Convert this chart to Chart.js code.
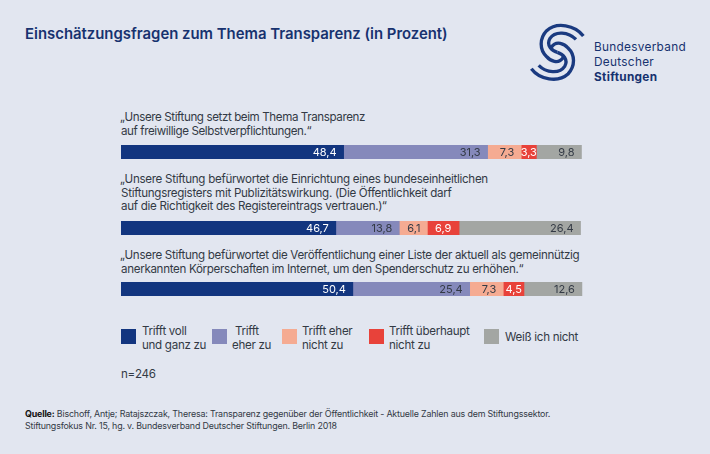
<!DOCTYPE html>
<html lang="de">
<head>
<meta charset="utf-8">
<title>Einschätzungsfragen zum Thema Transparenz</title>
<script src="https://cdn.jsdelivr.net/npm/chart.js@4"></script>
<style>
  html, body { margin: 0; padding: 0; }
  body { width: 710px; height: 454px; background: #e2e6f0; position: relative; overflow: hidden;
         font-family: Inter, "Noto Sans", sans-serif; color: #333a45; }
  .txt { position: absolute; white-space: nowrap; font-size: 11.6px; line-height: 14px; letter-spacing: -0.3px; }
  .question { left: 121px; text-indent: -1px; }
  .question div { text-indent: 0; }
  #title { left: 25px; top: 24px; font-size: 14.9px; line-height: 20px; font-weight: 600; color: #17326f; letter-spacing: 0; }
  #brand { left: 594px; top: 40px; font-size: 11.8px; line-height: 15px; color: #17326f; letter-spacing: 0.3px; }
  #brand b { font-weight: 700; }
  canvas { position: absolute; }
  .swatch { position: absolute; width: 15px; height: 15px; }
  #source { left: 25px; top: 408px; font-size: 8.9px; line-height: 12px; letter-spacing: -0.18px; }
  #source b { color: #111; }
</style>
</head>
<body>
<div class="txt" id="title">Einschätzungsfragen zum Thema Transparenz (in Prozent)</div>

<svg style="position:absolute;left:500px;top:10px" width="210" height="90" viewBox="0 0 630 270" fill="none" stroke="#1a3a80" stroke-width="10">
  <g id="swirl">
    <path d="M250 78 C225 45 170 35 140 62 C118 85 118 120 140 140 C150 152 175 165 190 142"/>
    <path d="M228 88 C205 65 165 62 150 85 C138 105 155 122 172 127"/>
  </g>
  <use href="#swirl" transform="rotate(180 172 127)"/>
</svg>
<div class="txt" id="brand">Bundesverband<br>Deutscher<br><b>Stiftungen</b></div>

<div class="txt question" style="top:110px;letter-spacing:-0.4px">„Unsere Stiftung setzt beim Thema Transparenz<div>auf freiwillige Selbstverpflichtungen.“</div></div>
<div class="txt question" style="top:173px;line-height:13.7px">„Unsere Stiftung befürwortet die Einrichtung eines bundeseinheitlichen<div>Stiftungsregisters mit Publizitätswirkung. (Die Öffentlichkeit darf</div><div>auf die Richtigkeit des Registereintrags vertrauen.)“</div></div>
<div class="txt question" style="top:248px;letter-spacing:-0.32px">„Unsere Stiftung befürwortet die Veröffentlichung einer Liste der aktuell als gemeinnützig<div>anerkannten Körperschaften im Internet, um den Spenderschutz zu erhöhen.“</div></div>

<canvas id="row1" style="left:121px;top:145px"></canvas>
<canvas id="row2" style="left:121px;top:221px"></canvas>
<canvas id="row3" style="left:121px;top:282px"></canvas>

<div id="legend"></div>
<div class="txt" style="left:121px;top:367px">n=246</div>
<div class="txt" id="source"><b>Quelle:</b> Bischoff, Antje; Ratajszczak, Theresa: Transparenz gegenüber der Öffentlichkeit - Aktuelle Zahlen aus dem Stiftungssektor.<br>Stiftungsfokus Nr. 15, hg. v. Bundesverband Deutscher Stiftungen. Berlin 2018</div>

<script>
// Antwortkategorien
var seriesNames = ['Trifft voll und ganz zu', 'Trifft eher zu', 'Trifft eher nicht zu', 'Trifft überhaupt nicht zu', 'Weiß ich nicht'];
var seriesColors = ['#12357f', '#8589bb', '#f5ab92', '#e8423a', '#a3a6a3'];
var labelColors = ['#ffffff', '#333a45', '#333a45', '#ffffff', '#333a45'];

// Werte je Frage (in Prozent)
var selbstverpflichtung = [48.4, 31.3, 7.3, 3.3, 9.8];
var stiftungsregister = [46.7, 13.8, 6.1, 6.9, 26.4];
var spenderschutz = [50.4, 25.4, 7.3, 4.5, 12.6];

// Legende: Zeilenumbrueche und Position
var legendLines = [['Trifft voll', 'und ganz zu'], ['&nbsp;Trifft', 'eher zu'], ['Trifft eher', 'nicht zu'], ['Trifft überhaupt', 'nicht zu'], ['Weiß ich nicht']];
var legendSwatchX = [121, 212, 282, 369, 484];
var legendTextX = [142, 232, 302, 389, 505];

// Zahlen in die Segmente schreiben, im roten Segment mittig
var valueLabels = {
    id: 'valueLabels',
    afterDatasetsDraw: function(chart) {
        var ctx = chart.ctx;
        ctx.save();
        ctx.font = '11px Inter, "Noto Sans", sans-serif';
        ctx.textBaseline = 'middle';
        chart.data.datasets.forEach(function(ds, i) {
            var bar = chart.getDatasetMeta(i).data[0];
            var text = ds.data[0].toFixed(1).replace('.', ',');
            ctx.fillStyle = labelColors[i];
            if (i === 3) {
                ctx.textAlign = 'center';
                ctx.fillText(text, bar.x - bar.width / 2, bar.y + 0.5);
            } else {
                ctx.textAlign = 'right';
                ctx.fillText(text, bar.x - 7, bar.y + 0.5);
            }
        });
        ctx.restore();
    }
};

function drawRow(id, name, values) {
    var canvas = document.getElementById(id);
    canvas.style.width = '480px';
    canvas.style.height = '14px';
    new Chart(canvas.getContext('2d'), {
        type: 'bar',
        data: {
            labels: [name],
            datasets: seriesNames.map(function(s, i) {
                return { label: s, data: [values[i]], backgroundColor: seriesColors[i], clip: false };
            })
        },
        options: {
            indexAxis: 'y',
            responsive: false,
            animation: false,
            barPercentage: 1,
            categoryPercentage: 1,
            layout: { padding: { right: 20 } },
            plugins: { legend: { display: false }, tooltip: { enabled: false } },
            scales: {
                x: { stacked: true, display: false, min: 0, max: 100 },
                y: { stacked: true, display: false }
            }
        },
        plugins: [valueLabels]
    });
}

document.addEventListener('DOMContentLoaded', function() {
    ['row1', 'row2', 'row3'].forEach(function(id) {
        var c = document.getElementById(id);
        c.width = 480; c.height = 14;
    });
    drawRow('row1', 'Selbstverpflichtungen', selbstverpflichtung);
    drawRow('row2', 'Stiftungsregister', stiftungsregister);
    drawRow('row3', 'Spenderschutz', spenderschutz);

    var legend = document.getElementById('legend');
    seriesNames.forEach(function(s, i) {
        var sw = document.createElement('div');
        sw.className = 'swatch';
        sw.style.left = legendSwatchX[i] + 'px';
        sw.style.top = '329px';
        sw.style.background = seriesColors[i];
        legend.appendChild(sw);
        var t = document.createElement('div');
        t.className = 'txt';
        t.style.left = legendTextX[i] + 'px';
        t.style.top = legendLines[i].length > 1 ? '324px' : '330px';
        t.innerHTML = legendLines[i].join('<br>');
        legend.appendChild(t);
    });
});
</script>
</body>
</html>
